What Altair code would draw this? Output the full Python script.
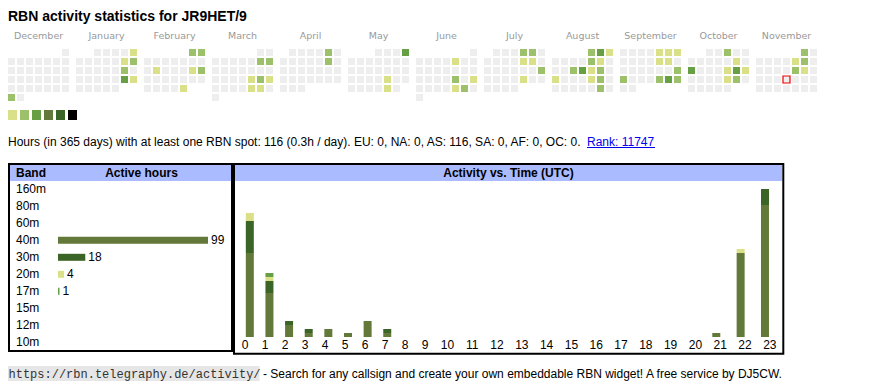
import datetime as dt
import altair as alt
import pandas as pd

# ---------------- data ----------------
TITLE = "RBN activity statistics for JR9HET/9"
MONTHS = ["December", "January", "February", "March", "April", "May", "June",
          "July", "August", "September", "October", "November"]
MONTH_KEYS = ["2024-12", "2025-01", "2025-02", "2025-03", "2025-04", "2025-05",
              "2025-06", "2025-07", "2025-08", "2025-09", "2025-10", "2025-11"]
TODAY = "2025-11-20"

# active days per month: (day of month, activity level)
ACT_DEC = [(30, 2)]
ACT_JAN = [(5, 1), (11, 1), (12, 2), (18, 2), (25, 3), (26, 1)]
ACT_FEB = [(1, 2), (2, 2), (11, 1), (15, 1), (16, 2), (28, 1)]
ACT_MAR = [(8, 2), (9, 2), (21, 1), (22, 2), (23, 1), (28, 1), (29, 1)]
ACT_APR = [(5, 2), (12, 2)]
ACT_MAY = [(4, 3), (23, 1), (30, 1)]
ACT_JUN = [(6, 1), (20, 2), (22, 1), (27, 1), (28, 2)]
ACT_JUL = [(4, 2), (5, 2), (11, 1), (12, 1), (20, 2), (25, 1)]
ACT_AUG = [(1, 2), (2, 3), (3, 1), (8, 2), (9, 1), (13, 2), (14, 3), (15, 1),
           (16, 2), (18, 1), (22, 1), (23, 2), (30, 2)]
ACT_SEP = [(5, 1), (6, 1), (7, 1), (12, 1), (13, 1), (21, 2), (22, 2), (26, 2),
           (27, 3), (28, 2)]
ACT_OCT = [(3, 2), (11, 1), (13, 3), (17, 1), (18, 3), (19, 1), (24, 1), (25, 2)]
ACT_NOV = [(1, 2), (7, 1), (8, 2), (14, 2), (15, 1)]
ACTIVE = [ACT_DEC, ACT_JAN, ACT_FEB, ACT_MAR, ACT_APR, ACT_MAY, ACT_JUN,
          ACT_JUL, ACT_AUG, ACT_SEP, ACT_OCT, ACT_NOV]

LEVELS = [0, 1, 2, 3, 4, 5, 6]
LEVEL_COLORS = ["#eeeeee", "#d9e088", "#9dc16a", "#67a044", "#637939", "#3b6526", "#000000"]

SUMMARY = ("Hours (in 365 days) with at least one RBN spot: 116 (0.3h / day). "
           "EU: 0, NA: 0, AS: 116, SA: 0, AF: 0, OC: 0. ")
RANK = "Rank: 11747"

BANDS = ["160m", "80m", "60m", "40m", "30m", "20m", "17m", "15m", "12m", "10m"]
BAND_HOURS = [0, 0, 0, 99, 18, 4, 1, 0, 0, 0]

STACK_BANDS = ["40m", "30m", "20m", "17m"]
STACK_COLORS = ["#637939", "#3b6526", "#d9e088", "#67a044"]

HOURS = list(range(24))
H_40M = [21, 11, 3, 1, 2, 1, 4, 1, 0, 0, 0, 0, 0, 0, 0, 0, 0, 0, 0, 0, 0, 1, 21, 33]
H_30M = [8, 3, 1, 1, 0, 0, 0, 1, 0, 0, 0, 0, 0, 0, 0, 0, 0, 0, 0, 0, 0, 0, 0, 4]
H_20M = [2, 1, 0, 0, 0, 0, 0, 0, 0, 0, 0, 0, 0, 0, 0, 0, 0, 0, 0, 0, 0, 0, 1, 0]
H_17M = [0, 1, 0, 0, 0, 0, 0, 0, 0, 0, 0, 0, 0, 0, 0, 0, 0, 0, 0, 0, 0, 0, 0, 0]

FOOT_URL = "https://rbn.telegraphy.de/activity/"
FOOT_TEXT = "- Search for any callsign and create your own embeddable RBN widget! A free service by DJ5CW."

# ---------------- layout constants ----------------
CELL = 9          # calendar cell pitch
MONTH_STEP = 68   # calendar month pitch
FONT = "Liberation Sans"

# ---------------- tables ----------------
cal_rows = []
for mi, (key, act) in enumerate(zip(MONTH_KEYS, ACTIVE)):
    y, m = map(int, key.split("-"))
    first = dt.date(y, m, 1)
    nxt = dt.date(y + (m == 12), m % 12 + 1, 1)
    lv = dict(act)
    off = first.weekday()
    for d in range(1, (nxt - first).days + 1):
        day = first + dt.timedelta(days=d - 1)
        col = day.weekday()
        row = (d - 1 + off) // 7
        cal_rows.append(dict(date=day.isoformat(), level=lv.get(d, 0),
                             gx=mi * MONTH_STEP + col * CELL, gy=row * CELL))
cal = pd.DataFrame(cal_rows)
today_df = cal[cal["date"] == TODAY]
months_df = pd.DataFrame({"month": MONTHS, "gx": [i * MONTH_STEP + 3 * CELL for i in range(12)]})
legend_df = pd.DataFrame({"level": LEVELS[1:]})
legend_df["lx"] = (legend_df["level"] - 1) * 12
legend_df["lx2"] = legend_df["lx"] + 9

band_df = pd.DataFrame({"band": BANDS, "hours": BAND_HOURS})
band_bars = band_df[band_df["hours"] > 0]

hour_rows = []
for series, b in zip([H_40M, H_30M, H_20M, H_17M], STACK_BANDS):
    for h, v in zip(HOURS, series):
        hour_rows.append(dict(hour=h, band=b, count=v, ord=STACK_BANDS.index(b)))
hours_df = pd.DataFrame(hour_rows)
# table-like column layout: one-digit columns narrower than two-digit ones
colw = pd.Series([20.0 if h < 10 else 24.8 for h in HOURS])
centers = (colw.cumsum() - colw / 2).tolist()
hours_df["cx"] = hours_df["hour"].map(dict(zip(HOURS, centers)))
hours_bars = hours_df[hours_df["count"] > 0]
hour_labels = pd.DataFrame({"hour": HOURS, "cx": centers})

# ---------------- scales ----------------
cal_x = alt.Scale(domain=[0, 800], range=[3.5, 803.5])
cal_y = alt.Scale(domain=[0, 100], range=[44.5, 144.5])
lvl_color = alt.Scale(domain=LEVELS, range=LEVEL_COLORS)
band_y = alt.Scale(domain=BANDS, range=[172.8, 342.8], paddingInner=0, paddingOuter=0)
band_x = alt.Scale(domain=[0, 99], range=[50, 200])
band_color = alt.Scale(domain=STACK_BANDS, range=STACK_COLORS)
hour_x = alt.Scale(domain=[0, 544.8], range=[227, 771.8])
hour_y = alt.Scale(domain=[0, 37], range=[329, 181])


def txt(text, x, y, size=12, bold=False, align="left", color="#000000", font=FONT):
    return alt.Chart(pd.DataFrame({"t": [text]})).mark_text(
        align=align, baseline="alphabetic", fontSize=size,
        fontWeight="bold" if bold else "normal", color=color, font=font
    ).encode(x=alt.value(x), y=alt.value(y), text="t:N")


def box(x, x2, y, y2, fill=None, stroke=None, sw=2):
    kw = {}
    if fill:
        kw["fill"] = fill
    else:
        kw["fillOpacity"] = 0
    if stroke:
        kw["stroke"] = stroke
        kw["strokeWidth"] = sw
    return alt.Chart(pd.DataFrame({"k": [0]})).mark_rect(**kw).encode(
        x=alt.value(x), x2=alt.value(x2), y=alt.value(y), y2=alt.value(y2))


title = txt(TITLE, 0, 13, size=14, bold=True)

month_labels = alt.Chart(months_df).mark_text(
    baseline="alphabetic", align="center", fontSize=9.5, color="#999999", font="DejaVu Sans"
).encode(x=alt.X("gx:Q", scale=cal_x, axis=None), y=alt.value(31), text="month:N")

cells = alt.Chart(cal).mark_square(size=49, opacity=1).encode(
    x=alt.X("gx:Q", scale=cal_x, axis=None),
    y=alt.Y("gy:Q", scale=cal_y, axis=None),
    color=alt.Color("level:O", scale=lvl_color, legend=None),
)
today = alt.Chart(today_df).mark_square(
    size=49, opacity=1, fill="#eeeeee", stroke="#ee0000", strokeWidth=1.2
).encode(x=alt.X("gx:Q", scale=cal_x, axis=None), y=alt.Y("gy:Q", scale=cal_y, axis=None))

legend = alt.Chart(legend_df).mark_rect().encode(
    x=alt.X("lx:Q", scale=alt.Scale(domain=[0, 100], range=[0, 100]), axis=None),
    x2="lx2:Q",
    y=alt.value(102), y2=alt.value(112),
    color=alt.Color("level:O", scale=lvl_color, legend=None),
)

summary = txt(SUMMARY, 0, 138)
rank = txt(RANK, 579, 138, color="#0000ee")
rank_line = alt.Chart(pd.DataFrame({"k": [0]})).mark_rule(color="#0000ee", strokeWidth=1).encode(
    x=alt.value(579), x2=alt.value(647), y=alt.value(139.5))

# boxes
left_head = box(2, 223, 157, 173, fill="#aabbff")
right_head = box(227, 774, 157, 173, fill="#aabbff")
left_box = box(1, 224, 156, 343, stroke="#000000")
right_box = box(226, 775.3, 156, 345.7, stroke="#000000")
h_band = txt("Band", 8, 168.7, bold=True)
h_active = txt("Active hours", 133.5, 168.7, bold=True, align="center")
h_time = txt("Activity vs. Time (UTC)", 500.5, 168.7, bold=True, align="center")

band_labels = alt.Chart(band_df).mark_text(
    align="left", baseline="middle", fontSize=12, font=FONT, color="#000000"
).encode(y=alt.Y("band:N", scale=band_y, axis=None), x=alt.value(8), text="band:N")

band_bar = alt.Chart(band_bars).mark_bar(size=7).encode(
    y=alt.Y("band:N", scale=band_y, axis=None),
    x=alt.X("hours:Q", scale=band_x, axis=None),
    color=alt.Color("band:N", scale=band_color, legend=None),
)
band_vals = alt.Chart(band_bars).mark_text(
    align="left", baseline="middle", dx=3, fontSize=12, font=FONT, color="#000000"
).encode(
    y=alt.Y("band:N", scale=band_y, axis=None),
    x=alt.X("hours:Q", scale=band_x, axis=None),
    text="hours:Q",
)

hour_bar = alt.Chart(hours_bars).mark_bar(size=8).encode(
    x=alt.X("cx:Q", scale=hour_x, axis=None),
    y=alt.Y("count:Q", stack="zero", scale=hour_y, axis=None),
    color=alt.Color("band:N", scale=band_color, legend=None),
    order=alt.Order("ord:Q", sort="ascending"),
)
hour_text = alt.Chart(hour_labels).mark_text(
    align="center", baseline="alphabetic", fontSize=12, font=FONT, color="#000000"
).encode(x=alt.X("cx:Q", scale=hour_x, axis=None), y=alt.value(341), text="hour:N")

foot_bg = box(0, 251.5, 358, 373, fill="#e6e6e6")
foot_url = txt(FOOT_URL, 0.5, 370, color="#333333", font="Liberation Mono")
foot_text = txt(FOOT_TEXT, 255, 370)

chart = alt.layer(
    title, month_labels, cells, today, legend, summary, rank, rank_line,
    left_head, right_head, h_band, h_active, h_time,
    band_labels, band_bar, band_vals, hour_bar, hour_text,
    left_box, right_box, foot_bg, foot_url, foot_text,
).resolve_scale(
    x="independent", y="independent", color="independent"
).properties(
    width=854, height=374, autosize=alt.AutoSizeParams(type="none"), padding=0
).configure_view(stroke=None)

chart.save("out.html", embed_options={"renderer": "svg", "actions": False})
